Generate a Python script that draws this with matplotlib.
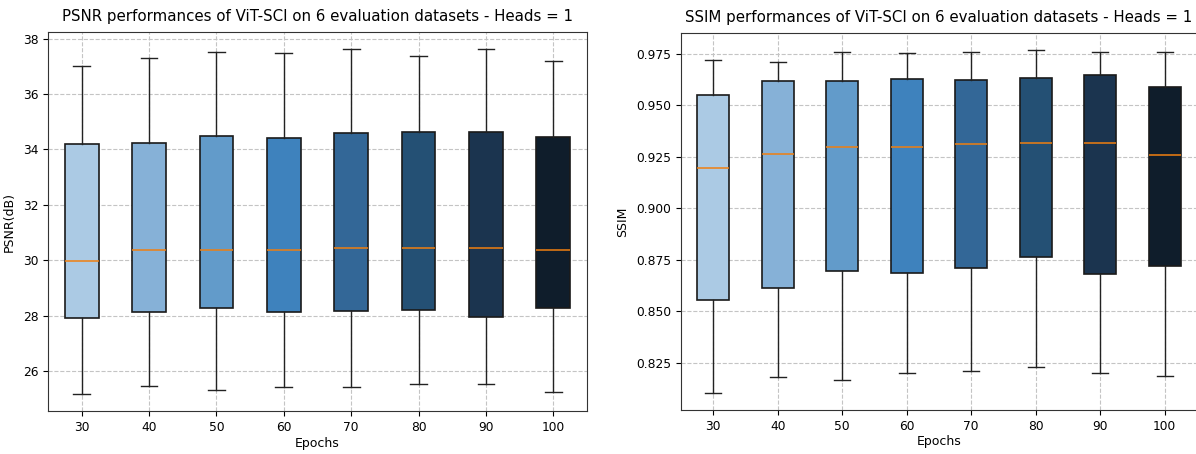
import matplotlib
matplotlib.use("Agg")
import matplotlib.pyplot as plt

epochs = ["30", "40", "50", "60", "70", "80", "90", "100"]

psnr_whislo = [25.18, 25.46, 25.32, 25.42, 25.42, 25.52, 25.52, 25.24]
psnr_q1 = [27.90, 28.12, 28.26, 28.12, 28.17, 28.22, 27.94, 28.26]
psnr_med = [29.98, 30.37, 30.37, 30.37, 30.45, 30.45, 30.45, 30.37]
psnr_q3 = [34.20, 34.24, 34.48, 34.40, 34.58, 34.63, 34.63, 34.45]
psnr_whishi = [37.00, 37.29, 37.53, 37.48, 37.62, 37.39, 37.62, 37.20]

ssim_whislo = [0.8104, 0.8180, 0.8167, 0.8200, 0.8211, 0.8231, 0.8200, 0.8187]
ssim_q1 = [0.8555, 0.8612, 0.8694, 0.8688, 0.8709, 0.8766, 0.8682, 0.8720]
ssim_med = [0.9197, 0.9265, 0.9299, 0.9299, 0.9311, 0.9317, 0.9317, 0.9260]
ssim_q3 = [0.9552, 0.9617, 0.9617, 0.9628, 0.9622, 0.9633, 0.9646, 0.9591]
ssim_whishi = [0.9722, 0.9711, 0.9761, 0.9756, 0.9761, 0.9768, 0.9761, 0.9761]

box_colors = ["#abcae4", "#86b1d7", "#629bca", "#3e82bd",
              "#336797", "#245074", "#1b344f", "#0f1d2b"]


def make_stats(lo, q1, med, q3, hi):
    return [dict(whislo=a, q1=b, med=c, q3=d, whishi=e, fliers=[], label=l)
            for a, b, c, d, e, l in zip(lo, q1, med, q3, hi, epochs)]


fig = plt.figure(figsize=(11.96, 4.54), dpi=100)
ax1 = fig.add_axes([48 / 1196, 1 - 411 / 454, 539 / 1196, 379 / 454])
ax2 = fig.add_axes([681 / 1196, 1 - 410 / 454, 516 / 1196, 377 / 454])

panels = [
    (ax1, make_stats(psnr_whislo, psnr_q1, psnr_med, psnr_q3, psnr_whishi),
     "PSNR performances of ViT-SCI on 6 evaluation datasets - Heads = 1", "PSNR(dB)"),
    (ax2, make_stats(ssim_whislo, ssim_q1, ssim_med, ssim_q3, ssim_whishi),
     "SSIM performances of ViT-SCI on 6 evaluation datasets - Heads = 1", "SSIM"),
]

for ax, stats, title, ylabel in panels:
    bp = ax.bxp(stats, showfliers=False, patch_artist=True, widths=0.5,
                medianprops=dict(color="#f07f10", linewidth=1.1),
                boxprops=dict(edgecolor="#1a1a1a", linewidth=1.2),
                whiskerprops=dict(color="#222222", linewidth=1.0),
                capprops=dict(color="#222222", linewidth=1.0))
    for patch, c in zip(bp["boxes"], box_colors):
        patch.set_facecolor(c)
    ax.grid(True, linestyle="--", color="#c4c4c4", linewidth=0.8)
    ax.set_axisbelow(True)
    ax.set_title(title, fontsize=10.8, pad=8)
    ax.set_xlabel("Epochs", fontsize=9, labelpad=2)
    ax.set_ylabel(ylabel, fontsize=9, labelpad=5)
    ax.tick_params(labelsize=8.8)
    for s in ax.spines.values():
        s.set_color("#333333")

fig.savefig("out.png", dpi=100)
